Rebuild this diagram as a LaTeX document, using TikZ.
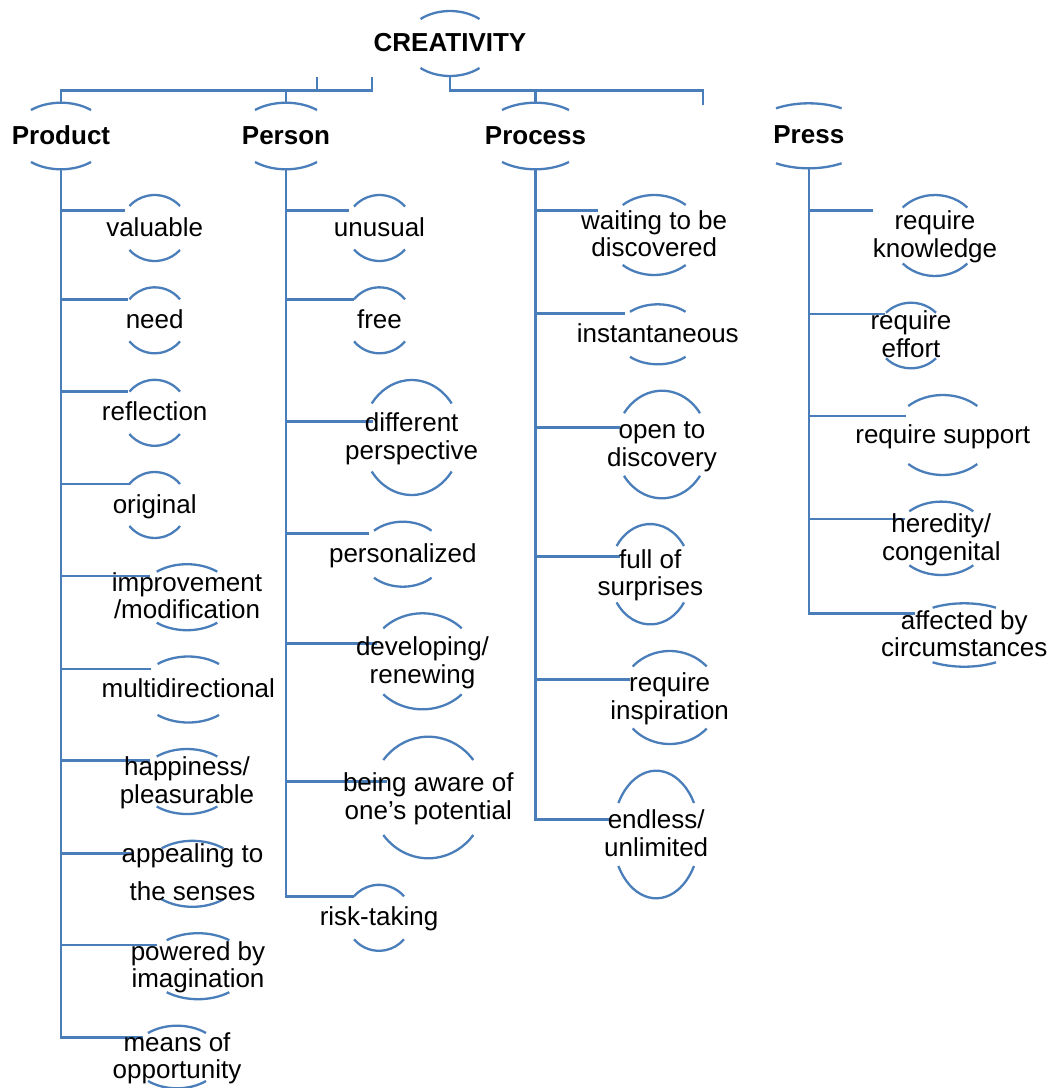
\documentclass[tikz,border=0pt]{standalone}
\usepackage{fontspec}
\setmainfont{Liberation Sans}
\definecolor{ln}{HTML}{4A7EBB}
\pgfdeclarelayer{fg}
\pgfsetlayers{main,fg}
\tikzset{
 conn/.style={draw=ln, line width=2.6pt},
 arcline/.style={draw=ln, line width=2.3pt},
 lbl/.style={font=\fontsize{26}{27.5}\selectfont, align=center, inner sep=0pt, yshift=-2.5pt, text=black},
 hdr/.style={lbl, font=\fontsize{26}{27.5}\selectfont\bfseries},
}
% style, name, cx, cy, half chord w, endpoint offset e, apex offset h, text
\newcommand\myoval[8]{%
  \pgfmathsetmacro\ovth{asin(#6/#7)}%
  \pgfmathsetmacro\ovrx{#5/cos(\ovth)}%
  \draw[arcline] (#3+#5,#4-#6) arc[start angle=\ovth, end angle=180-\ovth, x radius=\ovrx pt, y radius=#7 pt];
  \draw[arcline] (#3-#5,#4+#6) arc[start angle=180+\ovth, end angle=360-\ovth, x radius=\ovrx pt, y radius=#7 pt];
  \coordinate (#2-t) at (#3,#4-#7);
  \coordinate (#2-b) at (#3,#4+#7);
  \begin{pgfonlayer}{fg}\node[#1] (#2) at (#3,#4) {#8};\end{pgfonlayer}
}
% name, cx, cy, w, e, h, in-x, in-y, text
\newcommand\mychild[9]{\myoval{lbl}{#1}{#2}{#3}{#4}{#5}{#6}{#9}\coordinate (#1-in) at (#7,#8);}
\begin{document}
\begin{tikzpicture}[x=1pt,y=-1pt]
\fill[white] (0,0) rectangle (1053,1088);
\useasboundingbox (0,0) rectangle (1053,1088);

% headers
\myoval{hdr}{creativity}{450}{43.5}{29.5}{24.5}{32.5}{\strut CREATIVITY}
\myoval{hdr}{product}{61}{136}{30}{26}{33.3}{\strut Product}
\myoval{hdr}{person}{286}{136}{31}{26}{33.3}{\strut Person}
\myoval{hdr}{process}{535.5}{136}{33.5}{26}{33.3}{\strut Process}
\myoval{hdr}{press}{808.8}{135.8}{32.8}{27.5}{32.5}{\strut Press}

% Product children
\mychild{valuable}{154.7}{228}{25.3}{22}{33}{125}{210.7}{\strut valuable}
\mychild{need}{154.7}{320.3}{25.3}{21}{33}{128}{299.3}{\strut need}
\mychild{reflection}{154.7}{412.8}{25.3}{21.2}{33}{128}{391.7}{\strut reflection}
\mychild{original}{154.7}{505}{25.3}{21}{33}{130}{484}{\strut original}
\mychild{improvement}{187}{597.2}{30.3}{25.5}{33}{150}{576}{\strut improvement\\\strut /modification}
\mychild{multidir}{188.3}{689.5}{30.7}{25.5}{33}{150.7}{669}{\strut multidirectional}
\mychild{happiness}{187}{781.5}{30.3}{25}{32.5}{150}{760.7}{\strut happiness/\\\strut pleasurable}
\mychild{appealing}{192.5}{873.8}{30.8}{25.5}{33}{132}{853.3}{\strut appealing to\\[10.2pt]\strut the senses}
\mychild{powered}{198}{966.2}{31.3}{26}{33}{156.7}{945}{\strut powered by\\\strut imagination}
\mychild{means}{177}{1057}{29}{24}{31.3}{143.3}{1037.3}{\strut means of\\\strut opportunity}

% Person children
\mychild{unusual}{379.5}{228}{25.5}{21.5}{33}{349.3}{210.7}{\strut unusual}
\mychild{free}{379.5}{320.3}{25.5}{21}{33}{354}{299.3}{\strut free}
\mychild{different}{411.7}{437.5}{40}{34}{57.5}{373.3}{421.7}{\strut different\\\strut perspective}
\mychild{personalized}{402.8}{554.2}{28.8}{23.5}{32.5}{369.3}{533.3}{\strut personalized}
\mychild{developing}{422.5}{661.3}{39.2}{33}{48}{376.7}{643.3}{\strut developing/\\\strut renewing}
\mychild{aware}{428.3}{797.5}{45}{37.5}{60.8}{386.7}{781.7}{\strut being aware of\\\strut one’s potential}
\mychild{risk}{379}{917.8}{25}{21.5}{33}{354}{896.7}{\strut risk-taking}

% Process children
\mychild{waiting}{654.2}{235}{31.5}{30}{40}{598.3}{210.7}{\strut waiting to be\\\strut discovered}
\mychild{instant}{657.8}{334.3}{27.8}{22.5}{30}{625}{313.3}{\strut instantaneous}
\mychild{open}{662}{444.5}{38}{31.3}{53.8}{620}{427.3}{\strut open to\\\strut discovery}
\mychild{full}{650.3}{574.2}{33.7}{28.2}{50.2}{620}{556.7}{\strut full of\\\strut surprises}
\mychild{inspiration}{669.7}{697.5}{37}{31}{46.5}{630}{679.3}{\strut require\\\strut inspiration}
\mychild{endless}{656.2}{834.5}{37.8}{31.5}{63.8}{610}{819.3}{\strut endless/\\\strut unlimited}

% Press children
\mychild{knowledge}{935}{235.5}{32.3}{28}{40.5}{872.7}{210.7}{\strut require\\\strut knowledge}
\mychild{effort}{911}{335.5}{25}{22.8}{32.8}{885}{314}{\strut require\\\strut effort}
\mychild{support}{942.8}{435}{34.5}{29}{40}{906}{416}{\strut require support}
\mychild{heredity}{941.3}{538.3}{32}{27}{36.7}{905}{519}{\strut heredity/\\\strut congenital}
\mychild{affected}{964.3}{635}{31.7}{27.3}{31.7}{915}{613.3}{\strut affected by\\\strut circumstances}

% top connectors
\coordinate (busL) at (372,90.5);
\coordinate (tickB) at (372,76.7);
\coordinate (tickA) at (317,76.7);
\coordinate (rEnd) at (703,105);
\draw[conn] (product-t) |- (busL) -- (tickB);
\draw[conn] (tickA) -- (tickA |- busL);
\draw[conn] (person-t) -- (person-t |- busL);
\draw[conn] (creativity-b) -- (creativity-b |- busL) -| (rEnd);
\draw[conn] (process-t) -- (process-t |- busL);

% trunks
\draw[conn] (product-b) |- (means-in);
\foreach \n in {valuable,need,reflection,original,improvement,multidir,happiness,appealing,powered}
  \draw[conn] (product-b |- \n-in) -- (\n-in);
\draw[conn] (person-b) |- (risk-in);
\foreach \n in {unusual,free,different,personalized,developing,aware}
  \draw[conn] (person-b |- \n-in) -- (\n-in);
\draw[conn] (process-b) |- (endless-in);
\foreach \n in {waiting,instant,open,full,inspiration}
  \draw[conn] (process-b |- \n-in) -- (\n-in);
\draw[conn] (press-b) |- (affected-in);
\foreach \n in {knowledge,effort,support,heredity}
  \draw[conn] (press-b |- \n-in) -- (\n-in);
\end{tikzpicture}
\end{document}
